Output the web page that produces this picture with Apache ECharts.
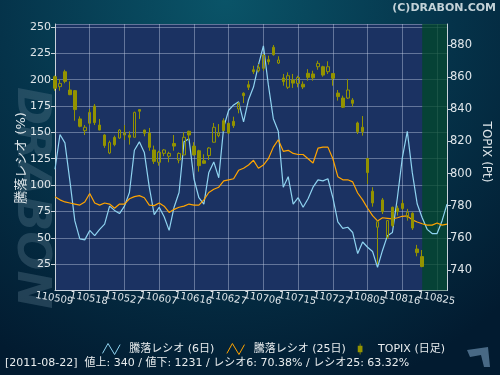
<!DOCTYPE html>
<html><head><meta charset="utf-8">
<script src="https://cdn.jsdelivr.net/npm/echarts@6/dist/echarts.min.js"></script>
<style>html,body{margin:0;padding:0;background:#022035}#c{width:500px;height:375px}</style>
</head><body><div id="c"></div>
<script>
// trading days (yymmdd); last 5 are beyond the data
const dates = ['110509','110510','110511','110512','110513','110516','110517','110518','110519','110520','110523','110524','110525','110526','110527','110530','110531',
'110601','110602','110603','110606','110607','110608','110609','110610','110613','110614','110615','110616','110617','110620','110621','110622','110623','110624','110627','110628','110629','110630',
'110701','110704','110705','110706','110707','110708','110711','110712','110713','110714','110715','110719','110720','110721','110722','110725','110726','110727','110728','110729',
'110801','110802','110803','110804','110805','110808','110809','110810','110811','110812','110815','110816','110817','110818','110819','110822','110823','110824','110825','110826','110829'];

// labelled dates on the x axis
const tickDates = ['110509','110518','110527','110607','110616','110627','110706','110715','110727','110805','110816','110825'];

// TOPIX daily candles: [open, close, low, high]
const topix = [
[860.3,853.1,851.6,861.0],[854.1,856.1,851.6,858.8],[863.4,857.4,856.2,864.6],[852.0,849.1,848.8,857.4],[851.6,839.8,832.9,852.0],
[834.0,829.4,828.8,835.6],[826.7,828.8,824.0,830.2],[831.3,838.1,830.2,840.2],[842.0,831.7,830.2,843.3],[830.2,827.1,827.0,834.0],
[824.0,817.4,816.0,824.5],[812.8,819.3,812.1,820.5],[822.5,818.0,817.0,823.6],[822.1,827.1,821.5,827.7],[824.0,825.4,820.9,830.2],
[823.9,822.6,818.0,826.3],[822.6,838.1,822.4,838.5],[839.8,838.8,834.0,840.0],[827.1,825.1,823.2,827.3],[825.2,816.3,814.2,828.4],
[814.7,807.6,806.0,817.4],[807.0,813.3,804.9,814.2],[812.6,814.7,810.8,815.3],[810.8,812.6,807.0,813.6],[818.7,817.1,814.2,824.0],
[808.4,812.5,806.4,813.2],[811.6,822.6,811.4,825.7],[826.3,824.0,820.5,826.7],[817.1,811.6,811.2,819.5],[814.2,804.9,801.2,814.8],
[808.0,806.4,806.0,812.0],[811.2,815.9,808.4,816.5],[819.5,828.8,819.3,831.5],[823.6,825.2,822.6,830.8],[832.9,826.7,826.3,834.4],
[831.3,825.2,824.8,831.6],[832.5,829.8,828.4,835.4],[840.2,843.7,837.5,844.4],[850.0,848.5,843.9,850.6],[855.3,853.7,852.0,857.8],
[864.6,863.4,862.0,867.1],[864.0,866.2,863.0,868.2],[865.5,873.8,864.0,874.4],[870.9,869.6,867.8,873.4],[878.6,874.0,873.4,880.0],
[868.8,870.7,868.2,873.0],[859.5,857.2,854.7,862.0],[853.7,860.9,852.6,863.0],[858.2,856.3,853.3,862.0],[856.1,859.8,853.7,860.9],
[855.6,853.9,852.6,857.4],[862.4,859.9,857.8,865.0],[862.0,859.6,857.8,864.0],[866.5,868.6,864.6,870.2],[866.5,861.3,860.3,867.1],
[863.4,866.5,862.0,869.9],[862.3,859.3,854.7,862.4],[850.1,847.9,845.4,852.0],[847.0,841.3,840.8,848.5],[847.0,852.0,846.4,858.9],
[845.8,843.7,841.6,847.0],[831.5,826.0,824.6,832.3],[828.8,826.1,823.6,835.8],[809.4,800.6,793.5,809.5],[789.0,781.7,779.4,791.5],
[766.6,770.0,743.7,770.7],[783.6,776.3,774.8,784.8],[760.3,770.7,759.3,771.0],[779.0,767.6,766.6,779.4],[778.4,776.3,773.8,780.0],
[781.4,778.3,777.3,783.6],[772.8,775.9,770.7,778.0],[775.3,766.1,764.9,775.9],[753.0,750.8,748.5,755.6],[748.3,742.1,741.7,752.4]
];

// 騰落レシオ (6日)
const ratio6 = [115,148,140,104,66,49,48,57,52,58,63,80,76,73,80,93,133,141,131,98,
72,79,70,57,79,93,141,144,106,88,82,112,122,107,155,171,176,179,160,181,
193,214,232,195,163,151,98,108,82,88,79,87,98,105,104,106,88,65,59,60,
55,35,46,41,37,22,38,52,55,88,126,151,112,82,69,58,54,54,66,82];

// 騰落レシオ (25日)
const ratio25 = [89,86,84,83,82,81,84,92,83,81,83,82,78,82,82,87,89,90,88,81,
80.5,83,80,74,77,79,80,82,81,81,86,93,96,98,104,105,106,114,116,119,
123.5,116,119,125,136,143,132,133,130,129,129,125,121,135,136,136,125,108,105,105,
103,92.5,86,78,71,66,69,68.5,68,69,70.4,70.7,67,65,63.3,62,62,64,62,63];

const legendNames = ['騰落レシオ (6日)', '騰落レシオ (25日)', 'TOPIX (日足)'];
const infoText = '[2011-08-22]  値上: 340 / 値下: 1231 / レシオ6: 70.38% / レシオ25: 63.32%';

const FONT = "'DejaVu Sans','Noto Sans CJK JP',sans-serif";
const LBL = '#dfe6ea';
const AX = '#c9d2da';
const OLIVE = '#939300';
const BLUE = '#8fd3f0';
const ORANGE = '#ffa400';

const tickPos = (idx) => tickDates.indexOf(dates[idx]);
const isTick = (idx) => tickPos(idx) >= 0;
// labels alternate between two overlaid category axes so rotated labels never get culled
const labelA = (idx) => tickPos(idx) >= 0 && tickPos(idx) % 2 === 0;
const labelB = (idx) => tickPos(idx) >= 0 && tickPos(idx) % 2 === 1;

const xLabelStyle = {rotate: -10, align: 'center', verticalAlign: 'top', margin: 3,
  color: LBL, fontSize: 10, fontFamily: FONT, showMinLabel: true, showMaxLabel: true, hideOverlap: false};

const chart = echarts.init(document.getElementById('c'), null, {renderer: 'canvas'});
chart.setOption({
  animation: false,
  backgroundColor: {type: 'radial', x: 0.45, y: 0.0, r: 1.1,
    colorStops: [{offset: 0, color: '#0a5468'}, {offset: 0.55, color: '#05334a'}, {offset: 1, color: '#021b30'}]},
  textStyle: {fontFamily: FONT},
  grid: {left: 55, right: 53, top: 24, bottom: 84.5, show: true, backgroundColor: '#1b3262', borderWidth: 0},
  legend: {
    left: 97, top: 338, itemWidth: 18, itemHeight: 11, itemGap: 12,
    textStyle: {color: '#e8ecee', fontSize: 11, fontFamily: FONT, padding: [0, 0, 0, 4]},
    data: [
      {name: legendNames[0], icon: 'path://M0,10L5,1L11,11L16,2', itemStyle: {color: 'rgba(0,0,0,0)', borderColor: BLUE, borderWidth: 1}},
      {name: legendNames[1], icon: 'path://M0,10L5,1L11,11L16,2', itemStyle: {color: 'rgba(0,0,0,0)', borderColor: ORANGE, borderWidth: 1}},
      {name: legendNames[2], icon: 'path://M2.5,0h1v3h2.5v8h-2.5v3h-1v-3h-2.5v-8h2.5z', itemStyle: {color: OLIVE, borderWidth: 0}}
    ]
  },
  xAxis: [
    {type: 'category', data: dates, boundaryGap: false,
     axisLine: {lineStyle: {color: AX, width: 1}},
     axisTick: {show: false},
     axisLabel: Object.assign({interval: labelA}, xLabelStyle),
     splitLine: {show: true, interval: isTick, lineStyle: {color: 'rgba(200,210,230,0.42)', width: 1}}},
    {type: 'category', data: dates, boundaryGap: false, position: 'bottom', offset: 0,
     axisLine: {show: false}, axisTick: {show: false}, splitLine: {show: false},
     axisLabel: Object.assign({interval: labelB}, xLabelStyle)}
  ],
  yAxis: [
    {type: 'value', position: 'left', min: 0, max: 252.8, interval: 25,
     axisLine: {show: true, lineStyle: {color: AX}},
     axisTick: {show: true, length: 4, lineStyle: {color: AX}},
     axisLabel: {color: LBL, fontSize: 11, margin: 4, showMinLabel: false, showMaxLabel: false, fontFamily: FONT},
     splitLine: {show: true, lineStyle: {color: 'rgba(200,210,230,0.42)', width: 1}}},
    {type: 'value', position: 'right', min: 727.2, max: 893.1, splitNumber: 8,
     axisLine: {show: true, lineStyle: {color: AX}},
     axisTick: {show: true, length: 4, lineStyle: {color: AX}},
     axisLabel: {color: LBL, fontSize: 11.5, margin: 3, showMinLabel: false, showMaxLabel: false, fontFamily: FONT},
     splitLine: {show: false}}
  ],
  series: [
    {name: 'future', type: 'line', data: [], silent: true, z: 1,
     markArea: {silent: true, itemStyle: {color: 'rgba(0,72,40,0.75)'}, data: [[{xAxis: '110822'}, {xAxis: '110829'}]]}},
    {name: legendNames[0], type: 'line', yAxisIndex: 0, data: ratio6, symbol: 'none', z: 3,
     lineStyle: {color: BLUE, width: 1.2}, itemStyle: {color: BLUE}},
    {name: legendNames[1], type: 'line', yAxisIndex: 0, data: ratio25, symbol: 'none', z: 3,
     lineStyle: {color: ORANGE, width: 1.2}, itemStyle: {color: ORANGE}},
    {name: legendNames[2], type: 'candlestick', yAxisIndex: 1, data: topix, barWidth: 3, z: 4,
     itemStyle: {color: 'rgba(0,0,0,0)', color0: OLIVE, borderColor: OLIVE, borderColor0: OLIVE, borderWidth: 1}}
  ],
  graphic: [
    {type: 'text', right: 4, top: 3, style: {text: '(C)DRABON.COM', fill: '#c3d2d8', font: 'bold 11px ' + FONT}},
    {type: 'text', x: 30, y: 198, rotation: -Math.PI / 2, z: -1,
     style: {text: 'DRABON', fill: 'rgba(100,130,150,0.32)', font: 'italic bold 46px ' + FONT, align: 'center', verticalAlign: 'middle'}},
    {type: 'text', x: 22, y: 158, rotation: Math.PI / 2,
     style: {text: '騰落レシオ (%)', fill: LBL, font: '13px ' + FONT, align: 'center', verticalAlign: 'middle'}},
    {type: 'text', x: 486, y: 152, rotation: -Math.PI / 2,
     style: {text: 'TOPIX (Pt)', fill: LBL, font: '12px ' + FONT, align: 'center', verticalAlign: 'middle'}},
    {type: 'text', x: 5, y: 363, style: {text: infoText, fill: '#e8ecee', font: '11px ' + FONT, verticalAlign: 'middle'}},
    {type: 'polygon', shape: {points: [[467,350],[488,347],[490,367],[484,367],[481,355],[470,357]]}, style: {fill: 'rgba(90,125,155,0.8)'}}
  ]
});
</script></body></html>
